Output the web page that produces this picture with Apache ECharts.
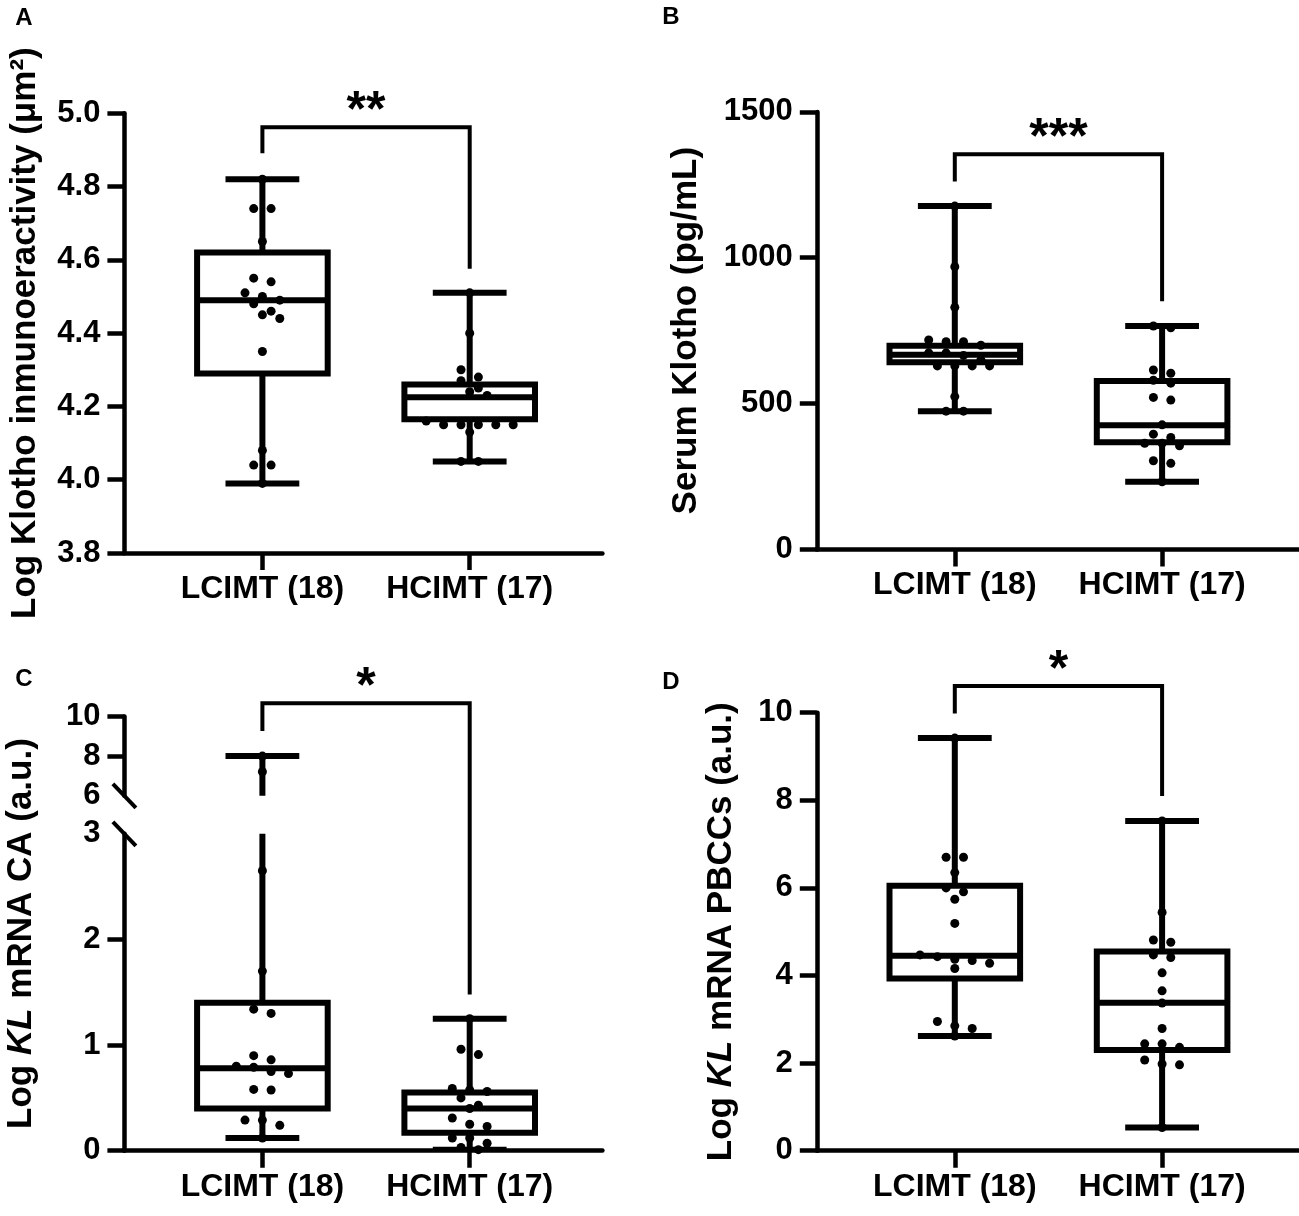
<!DOCTYPE html>
<html>
<head>
<meta charset="utf-8">
<title>Klotho box plots</title>
<script src="https://cdn.jsdelivr.net/npm/echarts@6/dist/echarts.min.js"></script>
<style>
  html, body { margin: 0; padding: 0; background: #fff; }
  #chart { width: 1299px; height: 1216px; }
</style>
</head>
<body>
<div id="chart"></div>
<script>
// ---- data ----
var groups = ['LCIMT (18)', 'HCIMT (17)'];
var sigLabels = ['**', '***', '*', '*'];

// A: Log Klotho immunoreactivity
var irL = [4.82, 4.74, 4.74, 4.65, 4.55, 4.54, 4.51, 4.50, 4.49, 4.48, 4.46, 4.45, 4.44, 4.35, 4.08, 4.04, 4.04, 3.99];
var irH = [4.51, 4.40, 4.30, 4.28, 4.27, 4.25, 4.24, 4.23, 4.16, 4.15, 4.15, 4.15, 4.15, 4.15, 4.13, 4.05, 4.05];
var irBox = [[3.99, 4.29, 4.49, 4.62, 4.82], [4.05, 4.165, 4.225, 4.26, 4.51]];

// B: serum Klotho
var serumL = [1177, 969, 830, 718, 712, 712, 700, 674, 674, 665, 650, 629, 629, 629, 629, 524, 474, 474];
var serumH = [766, 760, 615, 604, 580, 570, 521, 512, 427, 395, 384, 364, 364, 355, 304, 295, 232];
var serumBox = [[474, 642, 667, 698, 1177], [232, 367, 426, 577, 766]];

// C: KL mRNA CA
var caL = [8.0, 7.21, 2.65, 1.70, 1.34, 1.30, 0.90, 0.86, 0.80, 0.79, 0.75, 0.73, 0.58, 0.575, 0.29, 0.29, 0.24, 0.12];
var caH = [1.25, 0.96, 0.91, 0.59, 0.575, 0.56, 0.50, 0.43, 0.40, 0.31, 0.25, 0.23, 0.12, 0.12, 0.07, 0.03, 0.01];
var caBox = [[0.12, 0.40, 0.78, 1.40, 8.0], [0.01, 0.17, 0.40, 0.55, 1.25]];

// D: KL mRNA PBCCs
var pbL = [9.42, 6.70, 6.70, 6.35, 6.00, 5.91, 5.74, 5.19, 4.47, 4.43, 4.37, 4.34, 4.28, 4.16, 2.95, 2.85, 2.79, 2.62];
var pbH = [7.53, 5.44, 4.81, 4.76, 4.47, 4.41, 4.06, 3.65, 3.37, 2.79, 2.44, 2.44, 2.36, 2.07, 1.98, 1.96, 0.53];
var pbBox = [[2.62, 3.93, 4.45, 6.05, 9.42], [0.53, 2.30, 3.38, 4.55, 7.53]];

// ---- layout ----
var FONT = '"Liberation Sans", Arial, sans-serif';
var X_UNIT = 207.3;   // px between the two groups
var X_PAD = 138;      // px from y axis to first group
var BOX_HALF = 0.315; // in group units
var CAP_HALF = 0.178;
var DOT = 9;
var STEP = 8.7;       // horizontal swarm step, px
var LW = 4.5;

function xExtent(width) {
  var mn = -X_PAD / X_UNIT;
  return { min: mn, max: mn + width / X_UNIT };
}

var gridDefs = [
  { left: 124.4, top: 113.3, width: 478, height: 439.7 },   // 0 A
  { left: 816.8, top: 111.9, width: 482, height: 437.5 },   // 1 B
  { left: 124.4, top: 716.4, width: 478, height: 79.4 },    // 2 C upper
  { left: 124.4, top: 833.8, width: 478, height: 316.9 },   // 3 C lower
  { left: 816.8, top: 712.7, width: 482, height: 438 },     // 4 D
  { left: 124.4, top: 716.4, width: 478, height: 434.3 }    // 5 C title holder
];

function xAxis(g, visible) {
  var e = xExtent(gridDefs[g].width);
  return {
    gridIndex: g, type: 'value', min: e.min, max: e.max, show: visible,
    axisLine: { show: true, onZero: false, lineStyle: { color: '#000', width: LW } },
    axisTick: { show: true, length: 17, customValues: [0, 1], lineStyle: { color: '#000', width: LW } },
    axisLabel: {
      customValues: [0, 1], margin: 20, color: '#000', fontSize: 32, fontWeight: 'bold', fontFamily: FONT,
      formatter: function (v) { return groups[Math.round(v)]; }
    },
    splitLine: { show: false }
  };
}

var nameStyle = {
  color: '#000', fontSize: 35, fontWeight: 'bold', fontFamily: FONT,
  rich: {
    n: { color: '#000', fontSize: 35, fontWeight: 'bold', fontFamily: FONT },
    i: { color: '#000', fontSize: 35, fontWeight: 'bold', fontStyle: 'italic', fontFamily: FONT }
  }
};

function yAxis(g, o) {
  var ax = {
    gridIndex: g, type: 'value', min: o.min, max: o.max,
    axisLine: { show: true, onZero: false, lineStyle: { color: '#000', width: LW } },
    axisTick: { show: true, length: 17, lineStyle: { color: '#000', width: LW } },
    axisLabel: {
      margin: 24, color: '#000', fontSize: 31, fontWeight: 'bold', fontFamily: FONT,
      formatter: o.fmt || function (v) { return String(v); }
    },
    splitLine: { show: false }
  };
  if (o.interval) ax.interval = o.interval;
  if (o.ticks) ax.axisTick.customValues = o.ticks;
  if (o.labels) ax.axisLabel.customValues = o.labels;
  if (o.name) {
    ax.name = o.name;
    ax.nameLocation = 'middle';
    ax.nameGap = o.nameGap;
    ax.nameTextStyle = nameStyle;
  }
  return ax;
}

function renderBox(params, api) {
  var x = api.value(0);
  var lo = api.coord([x, api.value(1)]);
  var q1 = api.coord([x, api.value(2)]);
  var md = api.coord([x, api.value(3)]);
  var q3 = api.coord([x, api.value(4)]);
  var hi = api.coord([x, api.value(5)]);
  var unit = api.size([1, 0])[0];
  var hb = unit * BOX_HALF, hc = unit * CAP_HALF, cx = lo[0];
  var s = { stroke: '#000', lineWidth: 6 };
  return {
    type: 'group',
    children: [
      { type: 'line', shape: { x1: cx, y1: hi[1], x2: cx, y2: lo[1] }, style: s },
      { type: 'line', shape: { x1: cx - hc, y1: hi[1], x2: cx + hc, y2: hi[1] }, style: s },
      { type: 'line', shape: { x1: cx - hc, y1: lo[1], x2: cx + hc, y2: lo[1] }, style: s },
      { type: 'rect', shape: { x: cx - hb, y: q3[1], width: 2 * hb, height: q1[1] - q3[1] },
        style: { stroke: '#000', lineWidth: 6, fill: '#fff' } },
      { type: 'line', shape: { x1: cx - hb, y1: md[1], x2: cx + hb, y2: md[1] }, style: s }
    ]
  };
}

function boxSeries(g, stats, clip) {
  return {
    type: 'custom', xAxisIndex: g, yAxisIndex: g, clip: !!clip, z: 2,
    renderItem: renderBox,
    data: stats.map(function (s, i) { return [i].concat(s); })
  };
}

function dotSeries(g) {
  return {
    id: 'dots' + g, type: 'scatter', xAxisIndex: g, yAxisIndex: g, z: 5,
    symbol: 'circle', symbolSize: DOT, itemStyle: { color: '#000', opacity: 1 }, data: []
  };
}

var option = {
  animation: false,
  backgroundColor: '#fff',
  textStyle: { fontFamily: FONT },
  grid: gridDefs.map(function (d) {
    return { left: d.left, top: d.top, width: d.width, height: d.height, outerBoundsMode: 'none' };
  }),
  xAxis: [xAxis(0, true), xAxis(1, true), xAxis(2, false), xAxis(3, true), xAxis(4, true), xAxis(5, false)],
  yAxis: [
    yAxis(0, { min: 3.8, max: 5.0, interval: 0.2, fmt: function (v) { return v.toFixed(1); },
      name: 'Log Klotho inmunoeractivity (μm²)', nameGap: 82 }),
    yAxis(1, { min: 0, max: 1500, interval: 500, name: 'Serum Klotho (pg/mL)', nameGap: 113 }),
    yAxis(2, { min: 6, max: 10, ticks: [8, 10], labels: [6, 8, 10] }),
    yAxis(3, { min: 0, max: 3, ticks: [0, 1, 2], labels: [0, 1, 2, 3] }),
    yAxis(4, { min: 0, max: 10, interval: 2, name: '{n|Log }{i|KL}{n| mRNA PBCCs (a.u.)}', nameGap: 78 }),
    {
      gridIndex: 5, type: 'value', min: 0, max: 1,
      axisLine: { show: false, onZero: false }, axisTick: { show: false }, axisLabel: { show: false }, splitLine: { show: false },
      name: '{n|Log }{i|KL}{n| mRNA CA (a.u.)}', nameLocation: 'middle', nameGap: 86, nameTextStyle: nameStyle
    }
  ],
  series: [
    boxSeries(0, irBox), boxSeries(1, serumBox),
    boxSeries(2, caBox, true), boxSeries(3, caBox, true),
    boxSeries(4, pbBox),
    dotSeries(0), dotSeries(1), dotSeries(2), dotSeries(3), dotSeries(4)
  ]
};

var chart = echarts.init(document.getElementById('chart'), null, { renderer: 'canvas' });
chart.setOption(option);

// ---- second pass: dot swarm, brackets, break marks ----
function toPx(g, x, y) { return chart.convertToPixel({ gridIndex: g }, [x, y]); }

var dots = { 0: [], 1: [], 2: [], 3: [], 4: [] };

// rows of nearly equal values are spread symmetrically; a row is nudged sideways if it hits the row above
function swarm(values, center, gridOf) {
  var pts = values.slice().sort(function (a, b) { return b - a; }).map(function (v) {
    var g = gridOf(v), p = toPx(g, center, v);
    return { v: v, g: g, y: p[1], unit: toPx(g, center + 1, v)[0] - p[0] };
  });
  var rows = [];
  pts.forEach(function (p) {
    var r = rows[rows.length - 1];
    if (r && p.y - r[0].y < DOT) r.push(p); else rows.push([p]);
  });
  var placed = [];
  var shifts = [0, STEP, -STEP, 2 * STEP, -2 * STEP];
  rows.forEach(function (r) {
    var n = r.length;
    for (var k = 0; k < shifts.length; k++) {
      var xs = r.map(function (p, i) { return (i - (n - 1) / 2) * 2 * STEP + shifts[k]; });
      var ok = r.every(function (p, i) {
        return placed.every(function (q) { return Math.hypot(q[0] - xs[i], q[1] - p.y) >= DOT - 0.5; });
      });
      if (ok || k === shifts.length - 1) {
        r.forEach(function (p, i) {
          placed.push([xs[i], p.y]);
          dots[p.g].push([center + xs[i] / p.unit, p.v]);
        });
        break;
      }
    }
  });
}
function single(g) { return function () { return g; }; }
var caGrid = function (v) { return v >= 6 ? 2 : 3; };
swarm(irL, 0, single(0)); swarm(irH, 1, single(0));
swarm(serumL, 0, single(1)); swarm(serumH, 1, single(1));
swarm(caL, 0, caGrid); swarm(caH, 1, caGrid);
swarm(pbL, 0, single(4)); swarm(pbH, 1, single(4));

var graphics = [];
function bracket(gTop, top, left, gRight, right, label) {
  var pl = toPx(gTop, 0, left), pt = toPx(gTop, 0, top);
  var pr = toPx(gRight, 1, right), ptr = toPx(gTop, 1, top);
  graphics.push({
    type: 'polyline', z: 10,
    shape: { points: [[pl[0], pl[1]], [pt[0], pt[1]], [ptr[0], pt[1]], [pr[0], pr[1]]] },
    style: { stroke: '#000', lineWidth: 4, fill: null }
  });
  graphics.push({
    type: 'text', z: 10, x: (pt[0] + ptr[0]) / 2, y: pt[1] - 15,
    style: { text: label, fill: '#000', fontSize: 50, fontWeight: 'bold', fontFamily: FONT, align: 'center', verticalAlign: 'middle' }
  });
}
bracket(0, 4.962, 4.891, 0, 4.576, sigLabels[0]);
bracket(1, 1355, 1261, 1, 851, sigLabels[1]);
bracket(2, 10.66, 9.26, 3, 1.478, sigLabels[2]);
bracket(4, 10.61, 9.98, 4, 8.10, sigLabels[3]);

[[2, 6], [3, 3]].forEach(function (b) {
  var e = xExtent(gridDefs[b[0]].width);
  var p = toPx(b[0], e.min, b[1]);
  graphics.push({
    type: 'line', z: 10,
    shape: { x1: p[0] - 11.5, y1: p[1] - 12, x2: p[0] + 11.5, y2: p[1] + 12 },
    style: { stroke: '#000', lineWidth: 4 }
  });
});

[['A', 24, 18], ['B', 671, 17], ['C', 24, 679], ['D', 671, 682]].forEach(function (t) {
  graphics.push({
    type: 'text', x: t[1], y: t[2],
    style: { text: t[0], fill: '#000', fontSize: 24, fontWeight: 'bold', fontFamily: FONT, align: 'center', verticalAlign: 'middle' }
  });
});

chart.setOption({
  series: [0, 1, 2, 3, 4].map(function (g) { return { id: 'dots' + g, data: dots[g] }; }),
  graphic: graphics
});
</script>
</body>
</html>
